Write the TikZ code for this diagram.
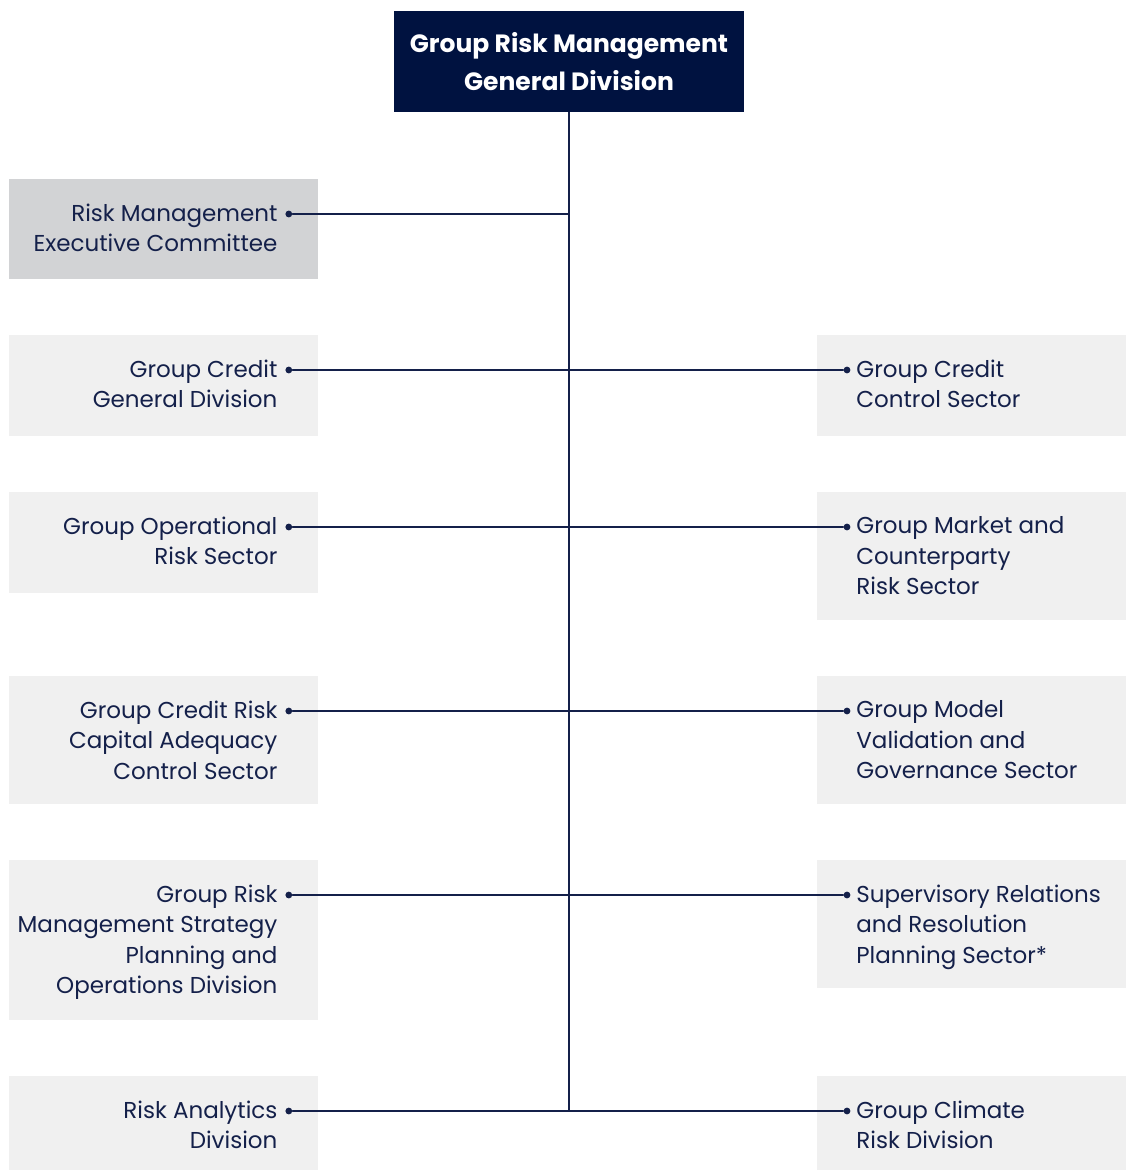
\documentclass[tikz,border=0pt]{standalone}
\usepackage{fontspec}
\setmainfont{Poppins}
\usetikzlibrary{positioning}

\definecolor{navy}{HTML}{001240}
\definecolor{ink}{HTML}{14204A}
\definecolor{boxgray}{HTML}{F0F0F0}
\definecolor{cmtgray}{HTML}{D2D3D5}

\tikzset{
  head box/.style={fill=navy, text=white, font=\fontsize{12.5}{19}\selectfont\bfseries,
    align=center, minimum width=175pt, minimum height=50.5pt, inner sep=0pt},
  unit box/.style={fill=boxgray, minimum width=154.5pt, inner sep=0pt, anchor=north west},
  left text/.style={text=ink, align=right, anchor=north east, inner sep=0pt},
  right text/.style={text=ink, align=left, anchor=north west, inner sep=0pt},
  dot/.style={circle, fill=ink, minimum size=3.4pt, inner sep=0pt},
  link/.style={ink, line width=0.75pt}
}

\begin{document}
\begin{tikzpicture}[x=0.5pt, y=-0.5pt, font=\fontsize{11.5}{15.25}\selectfont,
    line cap=round, line join=round]
  \useasboundingbox (0,0) rectangle (1128,1170);

  %% ---- head ----
  \node[head box] (grm) at (569,61.5) {Group Risk Management\\General Division};

  %% ---- left boxes ----
  \node[unit box, fill=cmtgray, minimum height=50pt] (rmec) at (9,179) {};
  \node[unit box, minimum height=50.5pt] (gcgd) at (9,335) {};
  \node[unit box, minimum height=50.5pt] (gors) at (9,492) {};
  \node[unit box, minimum height=64pt]   (gcra) at (9,676) {};
  \node[unit box, minimum height=80pt]   (grms) at (9,860) {};
  \node[unit box, minimum height=50pt]   (rad)  at (9,1076) {};

  %% ---- right boxes ----
  \node[unit box, minimum height=50.5pt] (gccs) at (817,335) {};
  \node[unit box, minimum height=64pt]   (gmcr) at (817,492) {};
  \node[unit box, minimum height=64pt]   (gmvg) at (817,676) {};
  \node[unit box, minimum height=64pt]   (srrp) at (817,860) {};
  \node[unit box, minimum height=50pt]   (gcrd) at (817,1076) {};

  %% ---- left labels + dots ----
  \foreach \n/\t in {rmec/{Risk Management\\Executive Committee},
                     gcgd/{Group Credit\\General Division},
                     gors/{Group Operational\\Risk Sector},
                     gcra/{Group Credit Risk\\Capital Adequacy\\Control Sector},
                     grms/{Group Risk\\Management Strategy\\Planning and\\Operations Division},
                     rad/{Risk Analytics\\Division}}{
    \node[left text] (\n-t) at ([xshift=-20.5pt, yshift=-12.2pt]\n.north east) {\t};
    \node[dot] (\n-d) at ([xshift=-15pt, yshift=-17.5pt]\n.north east) {};
  }

  %% ---- right labels + dots ----
  \foreach \n/\t in {gccs/{Group Credit\\Control Sector},
                     gmcr/{Group Market and\\Counterparty\\Risk Sector},
                     gmvg/{Group Model\\Validation and\\Governance Sector},
                     srrp/{Supervisory Relations\\and Resolution\\Planning Sector*},
                     gcrd/{Group Climate\\Risk Division}}{
    \node[right text] (\n-t) at ([xshift=19.5pt, yshift=-12.2pt]\n.north west) {\t};
    \node[dot] (\n-d) at ([xshift=15pt, yshift=-17.5pt]\n.north west) {};
  }

  %% ---- connectors ----
  \draw[link] (grm.south) -- (grm.south |- rad-d);
  \draw[link] (rmec-d) -- (rmec-d -| grm.south);
  \foreach \a/\b in {gcgd/gccs, gors/gmcr, gcra/gmvg, grms/srrp, rad/gcrd}
    \draw[link] (\a-d) -- (\b-d);

\end{tikzpicture}
\end{document}
